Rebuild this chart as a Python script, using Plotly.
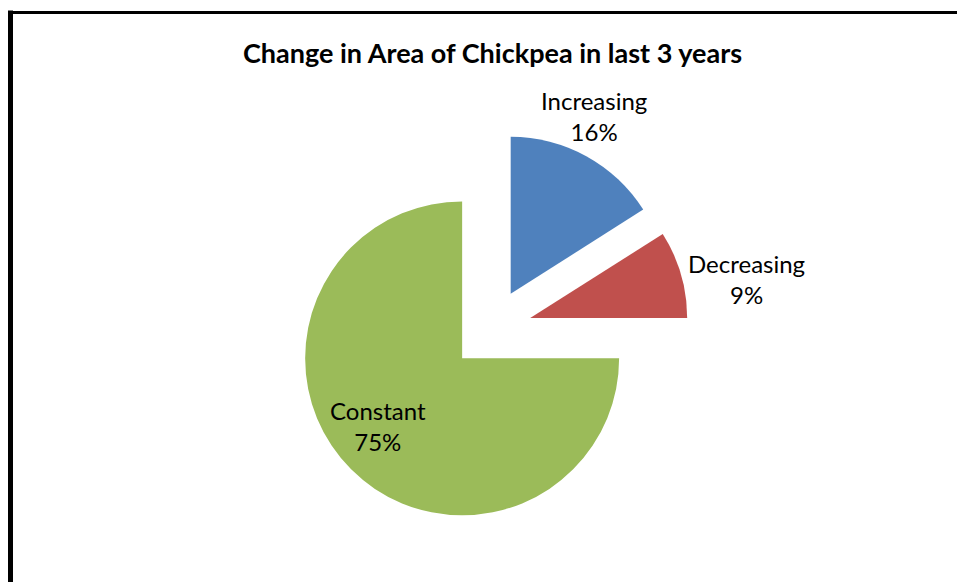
import plotly.graph_objects as go

# Share of farmers reporting each change in chickpea area
categories = ["Increasing", "Decreasing", "Constant"]
shares = [16, 9, 75]
colors = ["#4F81BD", "#C0504D", "#9BBB59"]
explode = [0.26, 0.26, 0.26]

W, H = 957, 582
FONT = "Lato"

fig = go.Figure(
    go.Pie(
        labels=categories,
        values=shares,
        sort=False,
        direction="clockwise",
        rotation=0,
        pull=explode,
        marker=dict(colors=colors, line=dict(width=0)),
        textinfo="none",
        hoverinfo="label+percent",
        showlegend=False,
        domain=dict(x=[293.2 / W, 688.8 / W], y=[1 - 527.3 / H, 1 - 131.7 / H]),
    )
)

# Data labels: category name and its share, placed beside each slice
total = sum(shares)
label_pos = {"Increasing": (594, 116), "Decreasing": (746, 279), "Constant": (378, 426)}
for cat, val in zip(categories, shares):
    px, py = label_pos[cat]
    fig.add_annotation(
        x=px / W, y=1 - py / H, xref="paper", yref="paper",
        text=f"{cat}<br>{round(100 * val / total)}%",
        showarrow=False, xanchor="center", yanchor="middle",
        font=dict(family=FONT, size=24, color="#000000"),
    )

# Chart title
fig.add_annotation(
    x=492 / W, y=1 - 52 / H, xref="paper", yref="paper",
    text="<b>Change in Area of Chickpea in last 3 years</b>",
    showarrow=False, xanchor="center", yanchor="middle",
    font=dict(family=FONT, size=27, color="#000000"),
)

# Chart frame (left and top edges)
fig.add_shape(type="line", xref="paper", yref="paper",
              x0=10.5 / W, x1=10.5 / W, y0=1 - 10.5 / H, y1=-0.1,
              line=dict(color="#000000", width=5))
fig.add_shape(type="line", xref="paper", yref="paper",
              x0=8 / W, x1=1.1, y0=1 - 12.5 / H, y1=1 - 12.5 / H,
              line=dict(color="#000000", width=3))

fig.update_layout(
    width=W, height=H,
    margin=dict(l=0, r=0, t=0, b=0),
    paper_bgcolor="#FFFFFF",
    plot_bgcolor="#FFFFFF",
    font=dict(family=FONT),
)

fig.write_html("out.html")
